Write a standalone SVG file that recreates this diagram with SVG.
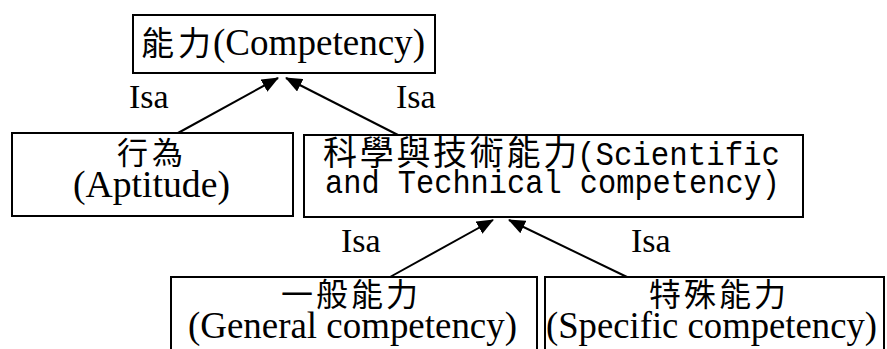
<svg xmlns="http://www.w3.org/2000/svg" width="887" height="349" viewBox="0 0 887 349">
  <style>
    .box { fill: #ffffff; stroke: #000000; stroke-width: 2; }
    .edge { fill: none; stroke: #000000; stroke-width: 2; marker-end: url(#tip); }
    .cjk { font-family: "Noto Sans CJK TC", "Noto Sans CJK SC", sans-serif; fill: #000; }
    .serif { font-family: "Liberation Serif", "Times New Roman", serif; font-size: 38px; fill: #000; }
    .mono { font-family: "Liberation Mono", "DejaVu Sans Mono", monospace; font-size: 34px; fill: #000; }
    .lbl { font-family: "Liberation Serif", "Times New Roman", serif; font-size: 34px; fill: #000; }
  </style>
  <defs>
    <marker id="tip" markerUnits="userSpaceOnUse" markerWidth="18" markerHeight="14" refX="16" refY="7" orient="auto">
      <path d="M0,0 L17,7 L0,14 Z" fill="#000"/>
    </marker>
  </defs>

  <rect width="887" height="349" fill="#ffffff"/>

  <!-- connectors -->
  <g id="connectors">
    <line class="edge" x1="178" y1="133" x2="278" y2="78"/>
    <line class="edge" x1="398" y1="135" x2="286" y2="78"/>
    <line class="edge" x1="390" y1="277" x2="493" y2="220"/>
    <line class="edge" x1="627" y1="277" x2="509" y2="220"/>
    <text class="lbl" x="129" y="108">Isa</text>
    <text class="lbl" x="396" y="108">Isa</text>
    <text class="lbl" x="341" y="252">Isa</text>
    <text class="lbl" x="631" y="252">Isa</text>
  </g>

  <!-- root -->
  <g id="competency">
    <rect class="box" x="133" y="15" width="302" height="58"/>
    <text y="55"><tspan class="cjk" x="141" font-size="33" letter-spacing="4">能力</tspan><tspan class="serif" x="213" textLength="212" lengthAdjust="spacingAndGlyphs">(Competency)</tspan></text>
  </g>

  <g id="aptitude">
    <rect class="box" x="12" y="133" width="281" height="83"/>
    <text class="cjk" x="117" y="164" font-size="31" letter-spacing="4">行為</text>
    <text class="serif" x="73" y="197" textLength="157" lengthAdjust="spacingAndGlyphs">(Aptitude)</text>
  </g>

  <g id="sci-tech">
    <rect class="box" x="304" y="135" width="499" height="82"/>
    <text y="165"><tspan class="cjk" x="323" font-size="34" letter-spacing="2.7">科學與技術能力</tspan><tspan class="mono" x="577" textLength="203" lengthAdjust="spacingAndGlyphs">(Scientific</tspan></text>
    <text class="mono" x="325" y="193" textLength="455" lengthAdjust="spacingAndGlyphs">and Technical competency)</text>
  </g>

  <g id="general">
    <rect class="box" x="171" y="277" width="366" height="90"/>
    <text class="cjk" x="281" y="306" font-size="32" letter-spacing="3">一般能力</text>
    <text class="serif" x="188" y="338" textLength="329" lengthAdjust="spacingAndGlyphs">(General competency)</text>
  </g>

  <g id="specific">
    <rect class="box" x="545" y="277" width="339" height="90"/>
    <text class="cjk" x="649" y="306" font-size="32" letter-spacing="3">特殊能力</text>
    <text class="serif" x="546" y="338" textLength="331" lengthAdjust="spacingAndGlyphs">(Specific competency)</text>
  </g>
</svg>
